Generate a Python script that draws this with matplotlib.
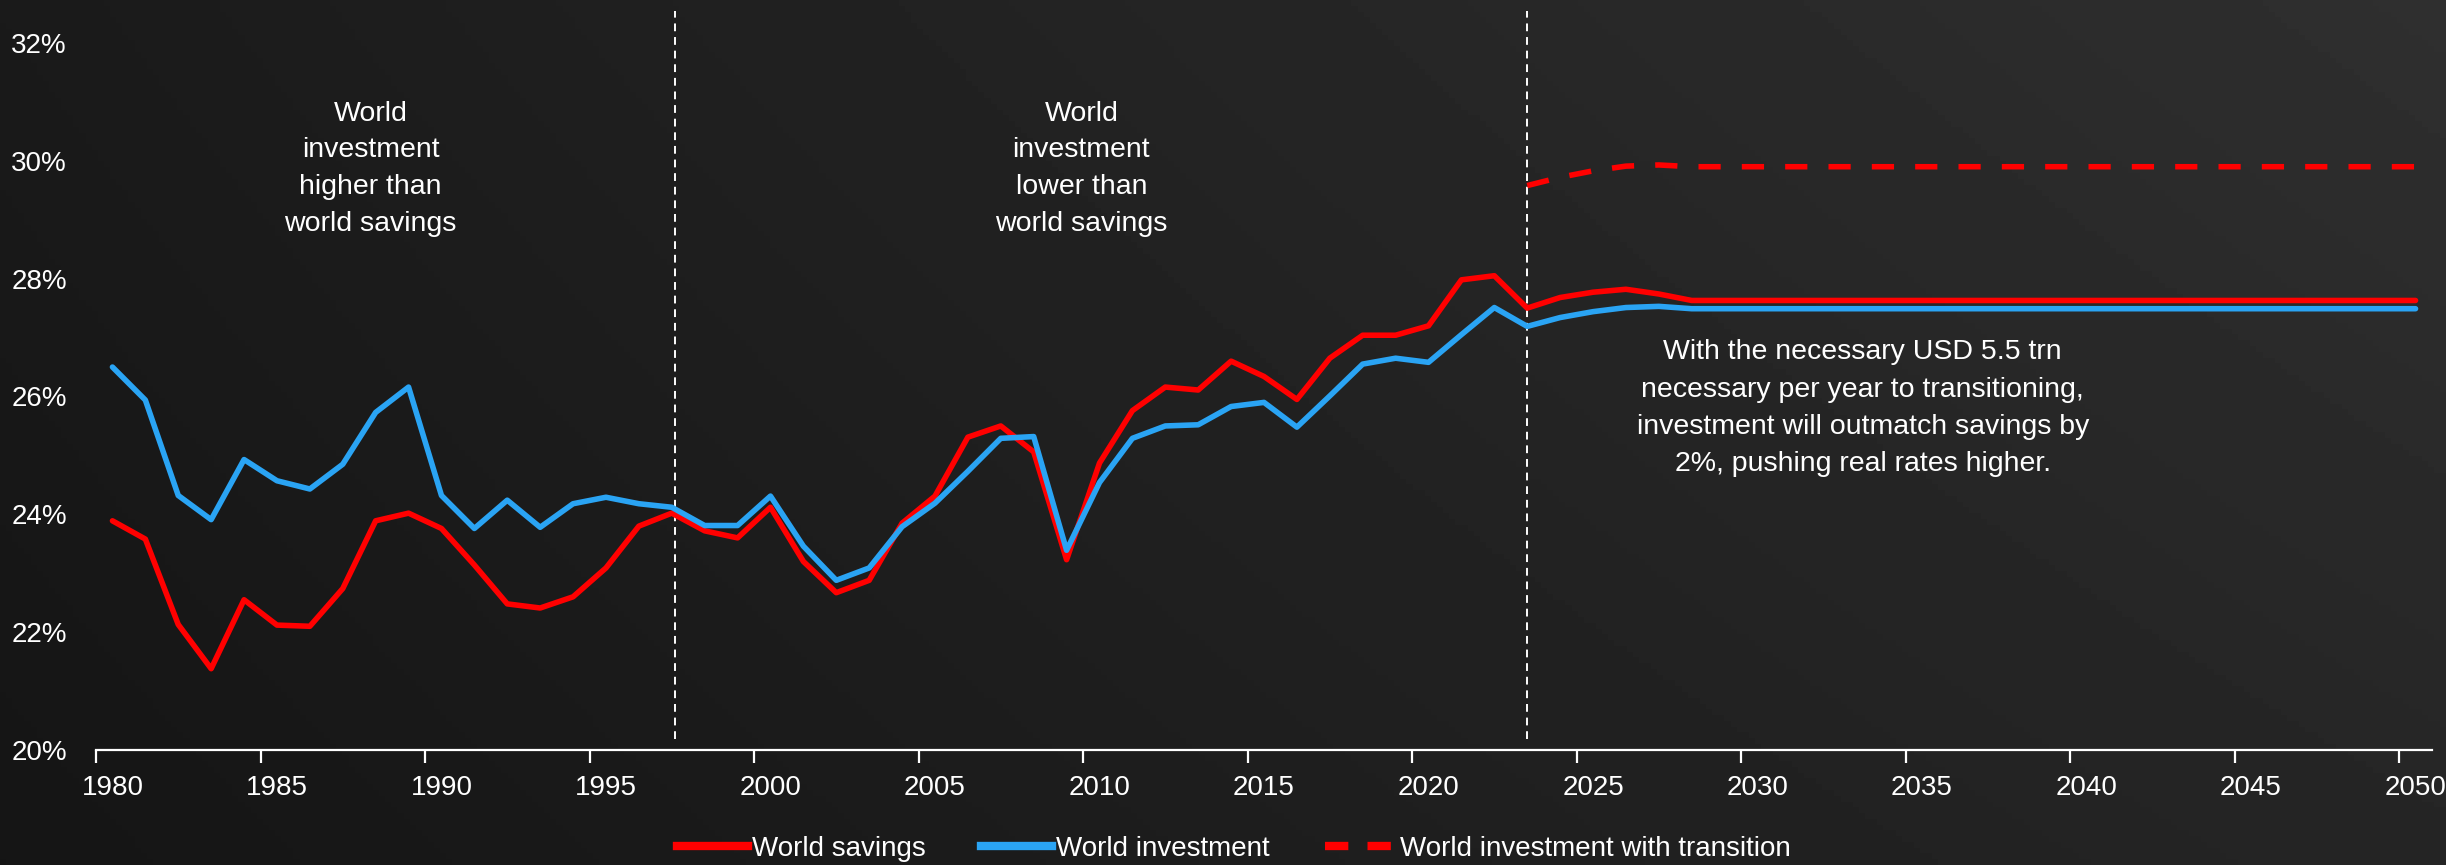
import numpy as np
import matplotlib
matplotlib.use("Agg")
import matplotlib.pyplot as plt
from matplotlib.lines import Line2D

# savings / investment as % of world GDP, 1980-2050
years = list(range(1980, 2051))

savings = [23.89, 23.58, 22.13, 21.38, 22.55, 22.12, 22.10, 22.74, 23.89, 24.02,
           23.76, 23.14, 22.48, 22.41, 22.60, 23.09, 23.80, 24.02, 23.72, 23.60,
           24.12, 23.20, 22.67, 22.88, 23.85, 24.31, 25.31, 25.50, 25.06, 23.23,
           24.87, 25.76, 26.16, 26.11, 26.60, 26.34, 25.95, 26.65, 27.04, 27.04,
           27.20, 27.98, 28.05, 27.50, 27.68, 27.77, 27.82, 27.74] + [27.63] * 23

investment = [26.50, 25.94, 24.32, 23.91, 24.93, 24.57, 24.43, 24.85, 25.73, 26.16,
              24.32, 23.76, 24.24, 23.78, 24.18, 24.29, 24.18, 24.12, 23.81, 23.81,
              24.31, 23.46, 22.88, 23.09, 23.79, 24.19, 24.73, 25.29, 25.32, 23.39,
              24.54, 25.29, 25.50, 25.52, 25.83, 25.90, 25.48, 26.01, 26.55, 26.65,
              26.58, 27.05, 27.51, 27.19, 27.34, 27.44, 27.51, 27.53] + [27.49] * 23

# transition scenario starts in 2023
transition_years = list(range(2023, 2051))
transition = [29.58, 29.72, 29.83, 29.91, 29.93] + [29.90] * 23

split_years = [1997.1, 2023.0]
y_ticks = [20, 22, 24, 26, 28, 30, 32]
label_years = list(range(1980, 2051, 5))

RED = "#FF0000"
BLUE = "#2AA4F4"
FONT = ["Liberation Sans", "DejaVu Sans"]

fig = plt.figure(figsize=(24.46, 8.65), dpi=100)

# dark backdrop, a little lighter towards the upper right
bg = fig.add_axes([0, 0, 1, 1], zorder=-10)
gx, gy = np.meshgrid(np.linspace(0, 1, 400), np.linspace(1, 0, 150))
shade = 0.082 + 0.064 * gx + 0.020 * gy + 0.020 * gx * gy
bg.imshow(shade, cmap="gray", vmin=0, vmax=1, aspect="auto", extent=[0, 1, 0, 1])
bg.axis("off")

ax = fig.add_axes([96 / 2446, 1 - 750 / 865, (2432 - 96) / 2446, (750 - 43) / 865])
ax.set_facecolor("none")

x = np.array(years) - 1980
xt = np.array(transition_years) - 1980
ax.plot(x, savings, color=RED, lw=4, solid_capstyle="round", solid_joinstyle="round", zorder=3)
ax.plot(x, investment, color=BLUE, lw=4, solid_capstyle="round", solid_joinstyle="round", zorder=4)
ax.plot(xt, transition, color=RED, lw=4, ls=(0, (4.0, 3.8)), zorder=3)

for yr in split_years:
    ax.plot([yr - 1980] * 2, [20.19, 32.55], color="white", lw=1.4,
            ls=(0, (4, 3)), clip_on=False, zorder=2)

ax.set_xlim(-0.5, 70.5)
ax.set_ylim(20, 32)

for s in ["top", "right", "left"]:
    ax.spines[s].set_visible(False)
ax.spines["bottom"].set_color("white")
ax.spines["bottom"].set_linewidth(1.6)

ax.set_yticks(y_ticks)
ax.set_yticklabels([f"{v}%" for v in y_ticks], family=FONT, fontsize=20, color="white")
ax.tick_params(axis="y", length=0, pad=21)

ax.set_xticks([y - 1980 for y in label_years])
ax.set_xticklabels([str(y) for y in label_years], family=FONT, fontsize=20, color="white")
ax.set_xticks([y - 1980 - 0.5 for y in label_years], minor=True)
ax.tick_params(axis="x", which="major", length=0, pad=18)
ax.tick_params(axis="x", which="minor", length=9, width=1.6, color="white", direction="out")

ax.text(7.85, 31.02, "World\ninvestment\nhigher than\nworld savings", ha="center", va="top",
        family=FONT, fontsize=20.5, color="white", linespacing=1.53)
ax.text(29.45, 31.02, "World\ninvestment\nlower than\nworld savings", ha="center", va="top",
        family=FONT, fontsize=20.5, color="white", linespacing=1.53)
ax.text(53.2, 26.97, "With the necessary USD 5.5 trn\nnecessary per year to transitioning,\n"
        "investment will outmatch savings by\n2%, pushing real rates higher.",
        ha="center", va="top", family=FONT, fontsize=20.5, color="white", linespacing=1.56)

handles = [Line2D([], [], color=RED, lw=6),
           Line2D([], [], color=BLUE, lw=6),
           Line2D([], [], color=RED, lw=6, ls=(0, (2.8, 2.3)))]
leg = fig.legend(handles, ["World savings", "World investment", "World investment with transition"],
                 loc="center", bbox_to_anchor=(0.5045, 0.019), ncol=3, frameon=False,
                 handlelength=2.55, handletextpad=0.15, columnspacing=2.0,
                 prop={"family": FONT, "size": 20})
for t in leg.get_texts():
    t.set_color("white")

fig.savefig("out.png", dpi=100)
